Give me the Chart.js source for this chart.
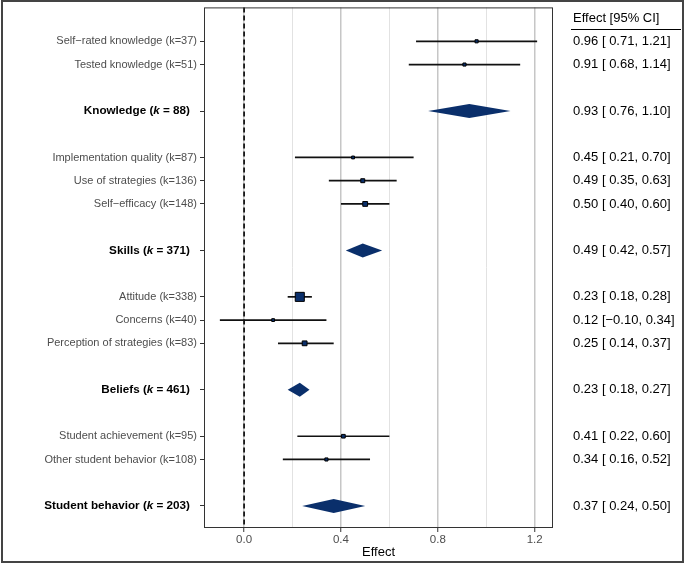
<!DOCTYPE html>
<html>
<head>
<meta charset="utf-8">
<script src="https://cdn.jsdelivr.net/npm/chart.js@4.4.1/dist/chart.umd.min.js"></script>
<style>
html,body{margin:0;padding:0;background:#fff;}
#wrap{width:685px;height:565px;position:relative;}
</style>
</head>
<body>
<div id="wrap"><canvas id="c" width="685" height="565"></canvas></div>
<script>
// ---------- data ----------
const names = [
  "Self\u2212rated knowledge (k=37)",
  "Tested knowledge (k=51)",
  "Knowledge",
  "Implementation quality (k=87)",
  "Use of strategies (k=136)",
  "Self\u2212efficacy (k=148)",
  "Skills",
  "Attitude (k=338)",
  "Concerns (k=40)",
  "Perception of strategies (k=83)",
  "Beliefs",
  "Student achievement (k=95)",
  "Other student behavior (k=108)",
  "Student behavior"
];
const summaryK = [null, null, 88, null, null, null, 371, null, null, null, 461, null, null, 203];
const rows     = [0, 1, 3, 5, 6, 7, 9, 11, 12, 13, 15, 17, 18, 20];
const est      = [0.96, 0.91, 0.93, 0.45, 0.49, 0.50, 0.49, 0.23, 0.12, 0.25, 0.23, 0.41, 0.34, 0.37];
const lower    = [0.71, 0.68, 0.76, 0.21, 0.35, 0.40, 0.42, 0.18, -0.10, 0.14, 0.18, 0.22, 0.16, 0.24];
const upper    = [1.21, 1.14, 1.10, 0.70, 0.63, 0.60, 0.57, 0.28, 0.34, 0.37, 0.27, 0.60, 0.52, 0.50];
const weight   = [2.2, 2.2, 0, 2.0, 2.8, 3.4, 0, 6.4, 2.0, 3.4, 0, 2.6, 2.2, 0];
const xTicks   = [0, 0.2, 0.4, 0.6, 0.8, 1.0, 1.2];
const xMajor   = [0, 0.4, 0.8, 1.2];

const NAVY = '#0a2f6b';
const fmt = v => (v < 0 ? '\u2212' : ' ') + Math.abs(v).toFixed(2);
const ciText = i => est[i].toFixed(2) + ' [' + fmt(lower[i]) + ', ' + upper[i].toFixed(2) + ']';

const points = [];
rows.forEach((r, i) => { if (summaryK[i] === null) points.push({x: est[i], y: r, w: weight[i]}); });

const forestPlugin = {
  id: 'forest',
  beforeDatasetsDraw(chart) {
    const {ctx, chartArea: a, scales: {x, y}} = chart;
    ctx.save();
    // dashed zero line
    ctx.strokeStyle = '#000';
    ctx.lineWidth = 1.6;
    ctx.setLineDash([5, 3]);
    ctx.beginPath();
    ctx.moveTo(x.getPixelForValue(0), a.top);
    ctx.lineTo(x.getPixelForValue(0), a.bottom);
    ctx.stroke();
    ctx.setLineDash([]);
    // CI lines and diamonds
    rows.forEach((r, i) => {
      const py = y.getPixelForValue(r);
      const x0 = x.getPixelForValue(lower[i]);
      const x1 = x.getPixelForValue(upper[i]);
      const xm = x.getPixelForValue(est[i]);
      if (summaryK[i] === null) {
        ctx.strokeStyle = '#111';
        ctx.lineWidth = 1.7;
        ctx.beginPath();
        ctx.moveTo(x0, py); ctx.lineTo(x1, py);
        ctx.stroke();
      } else {
        const h = 7;
        ctx.fillStyle = NAVY;
        ctx.beginPath();
        ctx.moveTo(x0, py); ctx.lineTo(xm, py - h);
        ctx.lineTo(x1, py); ctx.lineTo(xm, py + h);
        ctx.closePath();
        ctx.fill();
      }
    });
    ctx.restore();
  },
  afterDraw(chart) {
    const {ctx, chartArea: a, scales: {y}} = chart;
    ctx.save();
    // panel border
    ctx.strokeStyle = '#333';
    ctx.lineWidth = 1;
    ctx.strokeRect(a.left + 0.5, a.top + 0.5, a.right - a.left - 1, a.bottom - a.top - 1);
    // left labels
    ctx.textBaseline = 'middle';
    rows.forEach((r, i) => {
      const py = y.getPixelForValue(r);
      if (summaryK[i] === null) {
        ctx.font = '11px "Liberation Sans", Arial, sans-serif';
        ctx.fillStyle = '#4d4d4d';
        ctx.textAlign = 'right';
        ctx.fillText(names[i], 197, py);
      } else {
        const parts = [
          {t: names[i] + ' (', f: 'bold 11.7px "Liberation Sans", Arial, sans-serif'},
          {t: 'k', f: 'italic bold 11.7px "Liberation Sans", Arial, sans-serif'},
          {t: ' = ' + summaryK[i] + ')', f: 'bold 11.7px "Liberation Sans", Arial, sans-serif'}
        ];
        let total = 0;
        parts.forEach(p => { ctx.font = p.f; p.w = ctx.measureText(p.t).width; total += p.w; });
        let px = 190 - total;
        ctx.fillStyle = '#000';
        ctx.textAlign = 'left';
        parts.forEach(p => { ctx.font = p.f; ctx.fillText(p.t, px, py); px += p.w; });
      }
      // right column
      ctx.font = '13px "Liberation Sans", Arial, sans-serif';
      ctx.fillStyle = '#000';
      ctx.textAlign = 'left';
      ctx.fillText(ciText(i), 573, py);
    });
    // header
    ctx.font = '13px "Liberation Sans", Arial, sans-serif';
    ctx.fillText('Effect [95% CI]', 573, 18);
    ctx.strokeStyle = '#000';
    ctx.lineWidth = 1;
    ctx.beginPath();
    ctx.moveTo(571, 29.5); ctx.lineTo(681, 29.5);
    ctx.stroke();
    // x title
    ctx.font = '13px "Liberation Sans", Arial, sans-serif';
    ctx.textAlign = 'center';
    ctx.fillText('Effect', (a.left + a.right) / 2, 552);
    // outer frame
    ctx.strokeStyle = '#444';
    ctx.lineWidth = 2;
    ctx.strokeRect(2, 1, 681, 561);
    ctx.restore();
  }
};

new Chart(document.getElementById('c'), {
  type: 'scatter',
  data: {
    datasets: [{
      data: points,
      pointStyle: 'rect',
      pointRadius: ctx => ctx.raw ? ctx.raw.w : 2,
      pointHoverRadius: ctx => ctx.raw ? ctx.raw.w : 2,
      backgroundColor: NAVY,
      borderColor: '#000',
      borderWidth: 1
    }]
  },
  options: {
    responsive: false,
    animation: false,
    events: [],
    layout: {padding: {left: 0, top: 7, right: 132, bottom: 0}},
    plugins: {legend: {display: false}, tooltip: {enabled: false}},
    scales: {
      x: {
        type: 'linear',
        min: -0.1655, max: 1.2755,
        afterBuildTicks: s => { s.ticks = xTicks.map(v => ({value: v})); },
        afterFit: s => { s.height = 37; },
        grid: {
          color: c => xMajor.some(m => Math.abs(m - c.tick.value) < 1e-6) ? '#c6c6c6' : '#e2e2e2',
          lineWidth: c => xMajor.some(m => Math.abs(m - c.tick.value) < 1e-6) ? 1.5 : 1,
          tickColor: c => xMajor.some(m => Math.abs(m - c.tick.value) < 1e-6) ? '#333' : 'rgba(0,0,0,0)',
          tickLength: 4,
          tickWidth: 1
        },
        border: {display: false},
        ticks: {
          autoSkip: false,
          maxRotation: 0,
          padding: 1,
          color: '#4d4d4d',
          font: {family: '"Liberation Sans", Arial, sans-serif', size: 11.5},
          callback: v => xMajor.some(m => Math.abs(m - v) < 1e-6) ? v.toFixed(1) : ''
        }
      },
      y: {
        type: 'linear',
        reverse: true,
        min: -1.46, max: 20.95,
        afterBuildTicks: s => { s.ticks = rows.map(v => ({value: v})); },
        afterFit: s => { s.width = 204; },
        grid: {drawOnChartArea: false, drawTicks: true, tickLength: 4, tickColor: '#333', tickWidth: 1},
        border: {display: false},
        ticks: {autoSkip: false, padding: 0, callback: () => ''}
      }
    }
  },
  plugins: [forestPlugin]
});
</script>
</body>
</html>
